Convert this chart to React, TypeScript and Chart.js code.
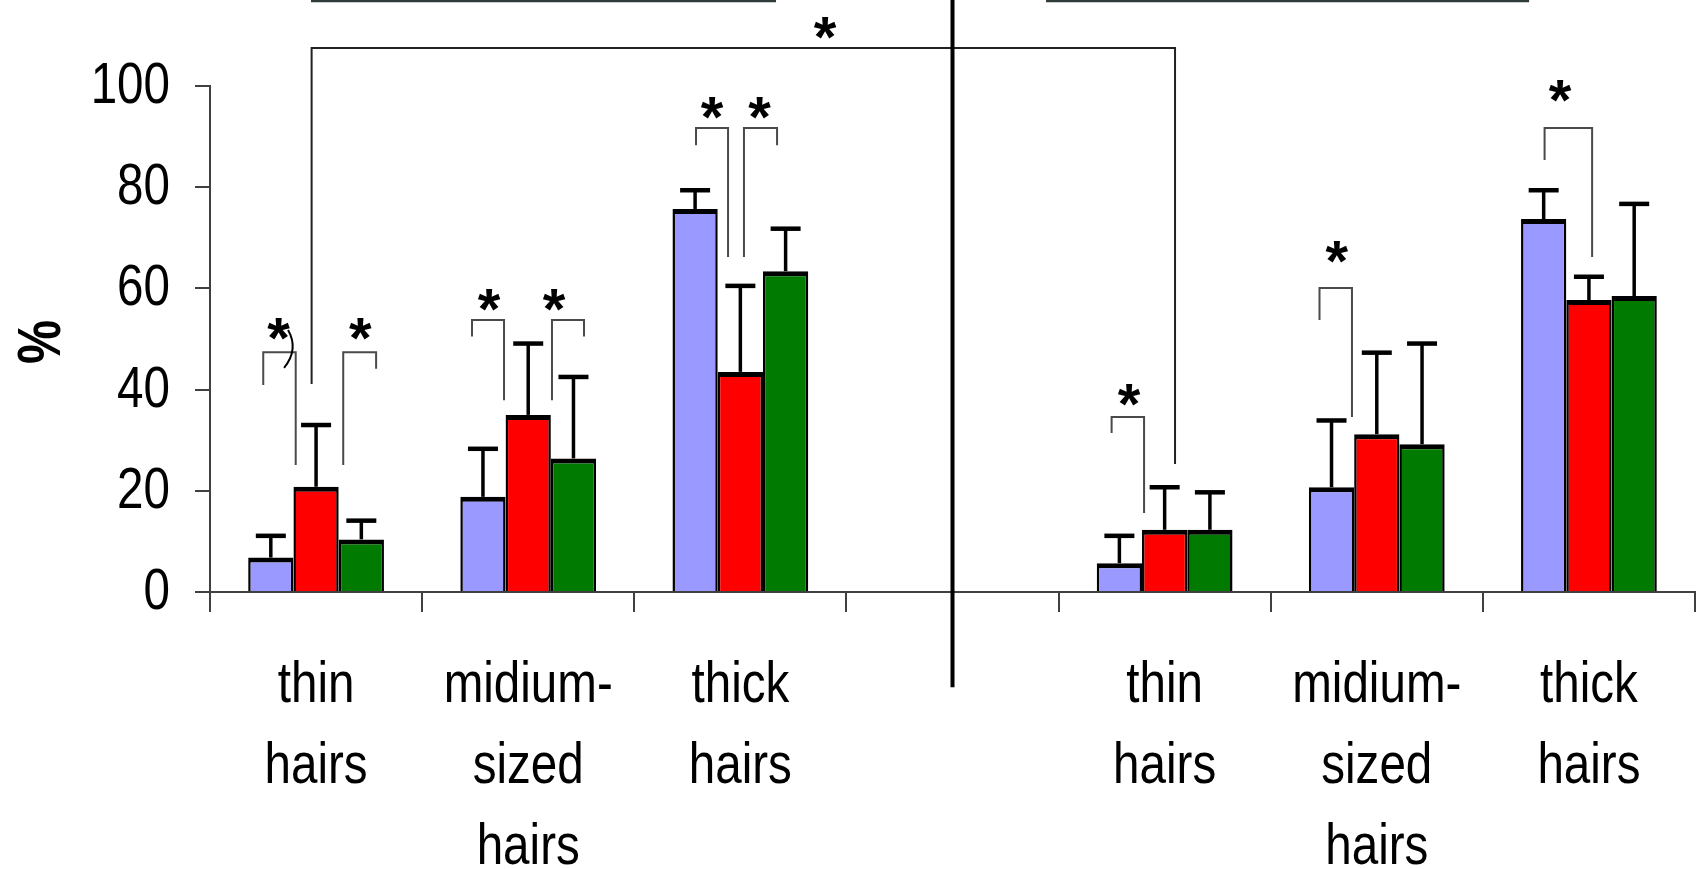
import React, { useEffect, useRef } from 'react';
import { Chart, registerables } from 'chart.js';

Chart.register(...registerables);

// ---------- data ----------
const categories: string[][] = [
  ['thin', 'hairs'],
  ['midium-', 'sized', 'hairs'],
  ['thick', 'hairs'],
  [],
  ['thin', 'hairs'],
  ['midium-', 'sized', 'hairs'],
  ['thick', 'hairs'],
];

const yTicks = [0, 20, 40, 60, 80, 100];
const yTitle = '%';

const blueVals = [6.8, 18.8, 75.7, null, 5.7, 20.7, 73.7];
const redVals = [20.8, 35.0, 43.5, null, 12.3, 31.2, 57.7];
const greenVals = [10.4, 26.4, 63.4, null, 12.3, 29.2, 58.5];

const blueErr = [4.3, 9.5, 3.7, null, 5.4, 13.2, 5.7];
const redErr = [12.2, 14.1, 17.0, null, 8.4, 16.1, 4.6];
const greenErr = [3.7, 16.1, 8.4, null, 7.4, 19.9, 18.2];

// brackets: [xLeft, xRight, yTop, yLeftEnd, yRightEnd] (category index units, % units)
const brackets = [
  [-0.021, 4.049, 107.5, 41.1, 25.3],
  [-0.249, -0.096, 47.4, 40.9, 25.1],
  [0.128, 0.283, 47.4, 25.1, 44.1],
  [0.735, 0.886, 53.75, 50.5, 37.9],
  [1.112, 1.263, 53.75, 37.9, 50.5],
  [1.791, 1.942, 91.7, 88.3, 66.2],
  [2.017, 2.173, 91.7, 66.2, 88.3],
  [3.75, 3.903, 34.6, 31.4, 15.6],
  [4.73, 4.883, 60.1, 53.75, 34.6],
  [5.791, 6.015, 91.7, 85.4, 66.2],
];

// asterisks: [x, y]
const stars = [
  [2.399, 111.4],
  [-0.177, 51.9],
  [0.209, 51.9],
  [0.815, 57.7],
  [1.122, 57.7],
  [1.866, 95.7],
  [2.09, 95.7],
  [3.832, 38.9],
  [4.811, 67.2],
  [5.864, 99.0],
];

// top horizontal lines: [xStart, xEnd, y]
const topLines = [
  [-0.024, 2.168, 116.8],
  [3.441, 5.718, 116.8],
];

// vertical divider: [x, yBottom, yTop]
const divider = [3, -18.8, 117.5];

// small stray curve near first bracket: [x0, y0, cx, cy, x1, y1]
const strayCurve = [-0.132, 51.8, -0.08, 48.0, -0.151, 44.3];

const SANS = "'Liberation Sans', Arial, sans-serif";
const NARROW_SCALE = 0.82;

const errors = [blueErr, redErr, greenErr];

const Y_TICK_LEN = 15;
const Y_TICK_PAD = 25;
const X_TICK_LEN = 20;
const X_FIRST_BASELINE = 110;
const X_LINE_H = 81;

function narrowText(ctx: any, text: string, x: number, y: number, align: string, baseline: string) {
  ctx.save();
  ctx.translate(x, y);
  ctx.scale(NARROW_SCALE, 1);
  ctx.textAlign = align;
  ctx.textBaseline = baseline;
  ctx.fillText(text, 0, 0);
  ctx.restore();
}

const overlayPlugin = {
  id: 'overlay',
  afterDatasetsDraw(chart: any) {
    const ctx = chart.ctx;
    const ys = chart.scales.y;
    ctx.save();
    chart.data.datasets.forEach((ds: any, di: number) => {
      const meta = chart.getDatasetMeta(di);
      meta.data.forEach((el: any, i: number) => {
        const v = ds.data[i];
        const e = errors[di][i];
        if (v == null || e == null) return;
        const px = el.x;
        const base = ys.getPixelForValue(v);
        const top = ys.getPixelForValue(v + e);
        ctx.strokeStyle = '#000';
        ctx.lineWidth = 3.5;
        ctx.beginPath();
        ctx.moveTo(px, base);
        ctx.lineTo(px, top);
        ctx.stroke();
        ctx.lineWidth = 4.5;
        ctx.beginPath();
        ctx.moveTo(px - 15, top);
        ctx.lineTo(px + 15, top);
        ctx.stroke();
      });
    });
    ctx.restore();
  },
  afterDraw(chart: any) {
    const ctx = chart.ctx;
    const xs = chart.scales.x;
    const ys = chart.scales.y;
    const X = (v: number) => xs.getPixelForValue(v);
    const Y = (v: number) => ys.getPixelForValue(v);
    ctx.save();

    // tick labels (condensed sans)
    ctx.fillStyle = '#000';
    ctx.font = `58px ${SANS}`;
    yTicks.forEach((v) => {
      narrowText(ctx, String(v), ys.right - Y_TICK_LEN - Y_TICK_PAD, Y(v) + 1, 'right', 'middle');
    });
    categories.forEach((lines, i) => {
      const cx = xs.getPixelForTick(i);
      lines.forEach((t, j) => {
        narrowText(ctx, t, cx, xs.top + X_FIRST_BASELINE + j * X_LINE_H, 'center', 'alphabetic');
      });
    });
    // y title
    ctx.save();
    ctx.font = `bold 62px ${SANS}`;
    ctx.translate(38.5, (ys.top + ys.bottom) / 2 + 3);
    ctx.rotate(-Math.PI / 2);
    ctx.scale(0.8, 1);
    ctx.textAlign = 'center';
    ctx.textBaseline = 'alphabetic';
    const tm = ctx.measureText(yTitle);
    ctx.fillText(yTitle, 0, (tm.actualBoundingBoxAscent - tm.actualBoundingBoxDescent) / 2);
    ctx.restore();

    // top lines
    ctx.strokeStyle = '#2f3b3b';
    ctx.lineWidth = 2.5;
    topLines.forEach(([a, b, yy]) => {
      ctx.beginPath();
      ctx.moveTo(X(a), Y(yy));
      ctx.lineTo(X(b), Y(yy));
      ctx.stroke();
    });
    // brackets
    brackets.forEach(([xl, xr, yt, yle, yre], idx) => {
      ctx.strokeStyle = idx === 0 ? '#222' : '#4a4a4a';
      ctx.lineWidth = 2;
      ctx.beginPath();
      ctx.moveTo(X(xl), Y(yle));
      ctx.lineTo(X(xl), Y(yt));
      ctx.lineTo(X(xr), Y(yt));
      ctx.lineTo(X(xr), Y(yre));
      ctx.stroke();
    });
    // stray curve
    ctx.strokeStyle = '#000';
    ctx.lineWidth = 2;
    ctx.beginPath();
    ctx.moveTo(X(strayCurve[0]), Y(strayCurve[1]));
    ctx.quadraticCurveTo(X(strayCurve[2]), Y(strayCurve[3]), X(strayCurve[4]), Y(strayCurve[5]));
    ctx.stroke();
    // divider
    ctx.strokeStyle = '#000';
    ctx.lineWidth = 4;
    ctx.beginPath();
    ctx.moveTo(X(divider[0]), Y(divider[1]));
    ctx.lineTo(X(divider[0]), Y(divider[2]));
    ctx.stroke();
    // asterisks
    ctx.fillStyle = '#000';
    ctx.font = `bold 58px ${SANS}`;
    ctx.textAlign = 'center';
    ctx.textBaseline = 'alphabetic';
    const m = ctx.measureText('*');
    const off = (m.actualBoundingBoxAscent - m.actualBoundingBoxDescent) / 2;
    stars.forEach(([sx, sy]) => {
      ctx.fillText('*', X(sx), Y(sy) + off);
    });
    ctx.restore();
  },
};

export default function App() {
  const ref = useRef<HTMLCanvasElement | null>(null);
  useEffect(() => {
    document.body.style.margin = '0';
    if (!ref.current) return;
    const common = {
      borderColor: '#000',
      borderWidth: { top: 5, left: 2.5, right: 2.5, bottom: 0 },
      borderSkipped: false,
      barPercentage: 1,
      categoryPercentage: 0.64,
    };
    const chart = new Chart(ref.current, {
      type: 'bar',
      data: {
        labels: categories.map((c) => c.join(' ')),
        datasets: [
          { label: 'blue', data: blueVals, backgroundColor: '#9999ff', ...common },
          { label: 'red', data: redVals, backgroundColor: '#ff0000', ...common },
          { label: 'green', data: greenVals, backgroundColor: '#007a00', ...common },
        ],
      },
      options: {
        responsive: false,
        animation: false,
        devicePixelRatio: 1,
        layout: { padding: { top: 86, right: 1, left: 0, bottom: 0 } },
        plugins: { legend: { display: false }, tooltip: { enabled: false } },
        scales: {
          x: {
            grid: {
              offset: true,
              drawOnChartArea: false,
              drawTicks: true,
              tickLength: X_TICK_LEN,
              color: '#404040',
              lineWidth: 2,
            },
            border: { display: true, color: '#404040', width: 2 },
            ticks: { display: false, autoSkip: false, maxRotation: 0 },
            afterFit: (s: any) => {
              s.height = 277;
            },
          },
          y: {
            min: 0,
            max: 100,
            afterBuildTicks: (s: any) => {
              s.ticks = yTicks.map((v) => ({ value: v }));
            },
            ticks: { display: false },
            grid: {
              drawOnChartArea: false,
              tickLength: Y_TICK_LEN,
              color: '#404040',
              lineWidth: 2,
            },
            border: { color: '#404040', width: 2 },
            afterFit: (s: any) => {
              s.width = 210;
            },
          },
        },
      },
      plugins: [overlayPlugin],
    } as any);
    return () => chart.destroy();
  }, []);
  return (
    <div style={{ width: 1696, height: 869, background: '#fff' }}>
      <canvas ref={ref} width={1696} height={869} style={{ display: 'block' }} />
    </div>
  );
}
